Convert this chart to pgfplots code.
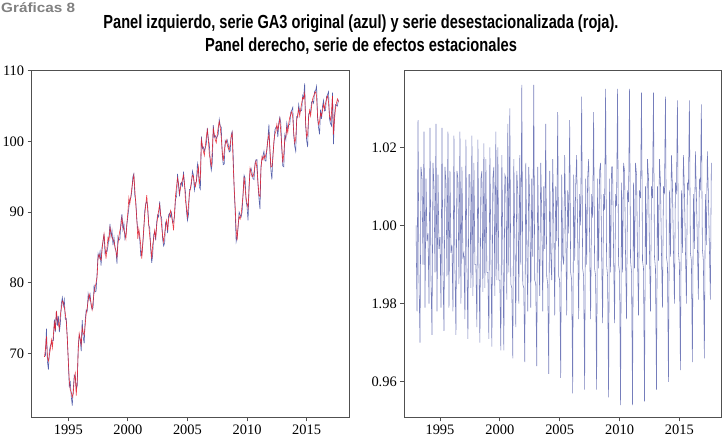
\documentclass[border=0pt]{standalone}
\usepackage{pgfplots}
\pgfplotsset{compat=1.18}
\usepackage{pgfplotstable}
\usepackage{graphicx}
\usepackage{fontspec}
\setmainfont{Liberation Serif}
\newfontfamily\titlefont{Liberation Sans}
\definecolor{serblue}{RGB}{58,70,158}
\definecolor{serred}{RGB}{232,28,40}
\definecolor{axgray}{RGB}{80,80,80}

% monthly data, Jan 1993 - Sep 2017: seasonally adjusted (red), original (blue), seasonal factor
\pgfplotstableread{
sa orig seas
69.5 69.5 1.000
70.6 69.7 0.978
72.4 73.5 1.027
69.4 68.8 0.985
68.9 67.7 0.970
69.8 70.4 1.015
70.6 71.1 1.012
71.9 71.4 0.990
70.8 71.8 1.024
72.6 71.8 0.979
74.3 74.8 1.012
73.2 73.0 0.996
76.0 76.0 0.998
74.8 73.9 0.980
74.2 75.3 1.025
73.6 73.0 0.986
75.4 74.2 0.972
76.4 77.0 1.016
77.4 77.9 1.010
77.2 76.7 0.988
76.6 77.6 1.026
75.6 74.8 0.978
74.4 74.9 1.013
72.2 72.0 0.994
69.0 69.0 0.997
66.2 65.3 0.979
64.8 65.9 1.025
64.5 63.9 0.988
63.8 62.6 0.973
64.3 64.9 1.015
66.4 66.9 1.011
67.2 66.7 0.987
64.0 65.0 1.024
66.2 65.4 0.979
70.4 70.9 1.014
72.8 72.6 0.993
72.0 72.0 0.995
71.2 70.3 0.978
73.6 74.7 1.023
72.9 72.3 0.989
72.6 71.4 0.972
74.0 74.6 1.014
75.6 76.1 1.012
76.4 75.9 0.985
77.4 78.4 1.024
78.4 77.6 0.980
77.8 78.3 1.015
77.0 76.8 0.992
76.2 76.2 0.993
77.4 76.5 0.976
78.6 79.7 1.022
79.3 78.7 0.990
80.0 78.8 0.971
80.8 81.4 1.013
83.6 84.1 1.013
84.0 83.5 0.984
83.4 84.4 1.023
83.2 82.4 0.982
84.6 85.1 1.016
86.0 85.8 0.990
86.9 86.9 0.990
85.0 84.1 0.974
83.4 84.5 1.022
85.0 84.4 0.992
86.4 85.2 0.970
86.0 86.6 1.012
87.8 88.3 1.014
87.0 86.5 0.983
86.4 87.4 1.021
86.1 85.3 0.984
85.9 86.4 1.017
85.1 84.9 0.988
84.5 84.5 0.988
83.6 82.7 0.971
85.4 86.5 1.020
86.6 86.0 0.994
87.4 86.2 0.969
88.0 88.6 1.012
89.2 89.7 1.015
88.0 87.5 0.982
87.4 88.4 1.024
87.0 86.2 0.986
86.2 86.7 1.020
88.4 88.2 0.986
90.0 89.4 0.986
92.0 90.6 0.968
91.2 91.8 1.018
92.2 92.0 0.995
93.4 93.0 0.968
94.4 95.0 1.013
95.2 95.4 1.012
93.2 92.3 0.981
91.0 91.5 1.026
89.0 88.9 0.988
86.2 87.4 1.030
87.6 87.1 0.985
86.6 86.0 0.984
85.2 83.8 0.966
83.4 84.0 1.017
85.6 85.4 0.996
87.8 87.4 0.974
89.6 90.2 1.014
91.0 91.2 1.008
92.4 91.5 0.980
90.2 90.7 1.018
88.2 88.1 0.990
86.6 87.8 1.036
85.2 84.7 0.985
83.4 82.8 0.984
85.4 84.0 0.965
86.2 86.8 1.016
87.4 87.2 0.995
86.4 86.0 0.978
88.0 88.6 1.015
89.4 89.6 1.005
90.2 89.3 0.979
91.0 91.5 1.012
89.6 89.5 0.992
88.0 89.2 1.036
86.6 86.1 0.986
85.8 85.2 0.985
87.0 85.6 0.964
88.0 88.6 1.015
88.8 88.6 0.994
87.4 87.0 0.982
89.0 89.6 1.016
89.6 89.8 1.003
90.2 89.3 0.978
89.4 89.9 1.010
88.6 88.5 0.994
87.4 88.6 1.026
90.0 89.5 0.987
92.4 91.8 0.985
93.6 92.2 0.962
94.8 95.4 1.014
94.0 93.8 0.993
92.6 92.2 0.986
93.4 94.0 1.017
94.0 94.2 1.002
94.6 93.7 0.977
95.2 95.7 1.010
94.0 93.9 0.996
91.6 92.8 1.029
90.6 90.1 0.987
89.4 88.8 0.986
91.0 89.6 0.961
92.6 93.2 1.013
93.4 93.2 0.992
94.4 94.0 0.990
95.2 95.8 1.018
95.0 95.2 1.001
94.0 93.1 0.977
93.6 94.1 1.009
94.4 94.3 0.998
95.6 96.8 1.027
96.4 95.9 0.988
94.0 93.5 0.986
95.0 93.2 0.957
100.2 100.7 1.013
99.4 99.0 0.991
98.6 99.2 1.010
98.0 98.6 1.018
99.4 99.1 0.998
100.6 99.6 0.976
101.6 101.9 1.008
100.2 100.4 1.000
98.2 99.6 1.033
97.4 97.0 0.989
96.4 95.9 0.987
98.8 97.0 0.958
101.8 102.3 1.012
101.0 100.6 0.990
100.2 100.8 1.012
99.8 100.4 1.017
101.0 100.7 0.996
102.0 101.0 0.976
102.8 103.1 1.008
102.0 102.2 1.002
100.6 102.0 1.029
98.6 98.2 0.989
97.2 96.7 0.987
98.6 96.8 0.958
99.6 100.1 1.012
100.2 99.8 0.989
99.6 100.2 1.014
99.0 99.6 1.016
98.8 98.5 0.994
99.6 98.6 0.975
100.6 100.9 1.008
101.2 101.4 1.004
96.8 98.2 1.035
93.6 93.2 0.990
90.8 90.3 0.987
87.6 85.8 0.956
86.0 86.5 1.012
88.2 87.8 0.988
89.4 90.0 1.015
89.0 89.6 1.015
89.6 89.3 0.993
91.0 90.0 0.975
92.4 92.7 1.008
95.0 95.2 1.005
93.4 94.8 1.035
92.0 91.6 0.990
91.2 90.7 0.988
90.6 88.8 0.954
93.2 93.7 1.011
96.2 95.8 0.988
95.6 96.2 1.016
95.0 95.6 1.014
95.0 94.7 0.992
95.6 94.6 0.976
96.6 96.9 1.009
97.2 97.4 1.006
96.0 97.4 1.035
94.2 93.8 0.991
92.4 91.9 0.988
92.2 90.4 0.954
96.0 96.5 1.011
97.8 97.4 0.989
97.4 98.0 1.016
98.0 98.6 1.013
97.6 97.3 0.992
98.2 97.2 0.977
98.8 99.1 1.009
100.2 100.4 1.007
101.0 102.4 1.034
99.0 98.6 0.991
96.4 95.9 0.989
96.4 94.6 0.955
97.6 98.1 1.010
100.0 99.6 0.990
101.0 101.6 1.017
101.4 102.0 1.012
102.4 102.1 0.993
101.6 100.6 0.978
102.4 102.7 1.010
103.2 103.4 1.007
101.2 102.6 1.034
99.2 98.8 0.992
97.0 96.5 0.989
98.2 96.4 0.958
100.4 100.9 1.010
100.6 100.2 0.991
102.0 102.6 1.017
101.2 101.8 1.011
102.6 102.3 0.993
103.4 102.4 0.979
103.8 104.1 1.010
104.2 104.4 1.008
103.4 104.8 1.033
101.2 100.8 0.992
99.8 99.3 0.990
100.4 98.6 0.960
103.0 103.5 1.009
103.8 103.4 0.992
104.6 105.2 1.018
103.6 104.2 1.010
104.6 104.3 0.994
105.4 104.4 0.980
106.2 106.5 1.011
106.0 106.2 1.008
106.8 108.2 1.032
102.6 102.2 0.993
100.6 100.1 0.990
101.0 99.2 0.963
103.4 103.9 1.009
104.4 104.0 0.993
103.6 104.2 1.018
105.0 105.6 1.009
106.0 105.7 0.994
106.4 105.4 0.980
106.8 107.1 1.011
107.0 107.2 1.009
106.4 107.8 1.032
103.6 103.2 0.993
102.4 101.9 0.991
102.8 101.0 0.965
104.0 104.5 1.008
103.6 103.2 0.994
104.4 105.0 1.019
105.2 105.8 1.008
104.6 104.3 0.995
105.4 104.4 0.981
106.0 106.3 1.012
106.4 106.6 1.009
105.6 107.0 1.031
103.6 103.2 0.994
103.0 102.5 0.991
104.0 102.2 0.966
106.4 106.9 1.008
101.0 99.6 0.995
103.0 103.6 1.019
104.6 105.2 1.008
105.4 105.1 0.995
106.0 105.0 0.981
105.6 105.9 1.016
}\data

\pgfplotsset{
  panel/.style={
    scale only axis, width=317.5bp, height=347.3bp, anchor=south west,
    axis line style={axgray, line width=0.9bp},
    tick align=outside, xtick pos=left, ytick pos=left,
    major tick length=4bp, tick style={axgray, line width=0.8bp},
    ticklabel style={font=\fontsize{14.5}{16}\selectfont, text=black},
    xtick={1995,2000,2005,2010,2015},
    xticklabels={1995,2000,2005,2010,2015},
    clip=true,
  }
}

\begin{document}
\begin{tikzpicture}
\path[use as bounding box] (0bp,0bp) rectangle (724bp,442bp);

\node[anchor=base west, inner sep=0pt] at (1bp,429bp)
  {\resizebox{74bp}{\height}{\titlefont\fontsize{13.5}{15}\selectfont\bfseries\color{black!50}Gráficas 8}};
\node[anchor=base, inner sep=0pt] at (361bp,413bp)
  {\resizebox{515bp}{\height}{\titlefont\fontsize{19}{22}\selectfont\bfseries Panel izquierdo, serie GA3 original (azul) y serie desestacionalizada (roja).}};
\node[anchor=base, inner sep=0pt] at (361bp,390bp)
  {\resizebox{312bp}{\height}{\titlefont\fontsize{19}{22}\selectfont\bfseries Panel derecho, serie de efectos estacionales}};

\begin{axis}[panel, at={(31.7bp,24.7bp)},
  xmin=1991.93, xmax=2018.57, ymin=60.94, ymax=110.1,
  ytick={70,80,90,100,110}, yticklabels={70,80,90,100,110}]
\addplot[serblue, line width=0.6bp, opacity=0.85] table[x expr=1993+\coordindex/12, y=orig]{\data};
\addplot[serred, line width=0.6bp, opacity=0.85] table[x expr=1993+\coordindex/12, y=sa]{\data};
\end{axis}

\begin{axis}[panel, at={(404.3bp,24.7bp)},
  xmin=1992.02, xmax=2018.54, ymin=0.9509, ymax=1.0398,
  ytick={0.96,0.98,1.00,1.02}, yticklabels={0.96,1.98,1.00,1.02}]
\addplot[serblue, line width=0.55bp, opacity=0.7] table[x expr=1993+\coordindex/12, y=seas]{\data};
\end{axis}
\end{tikzpicture}
\end{document}
